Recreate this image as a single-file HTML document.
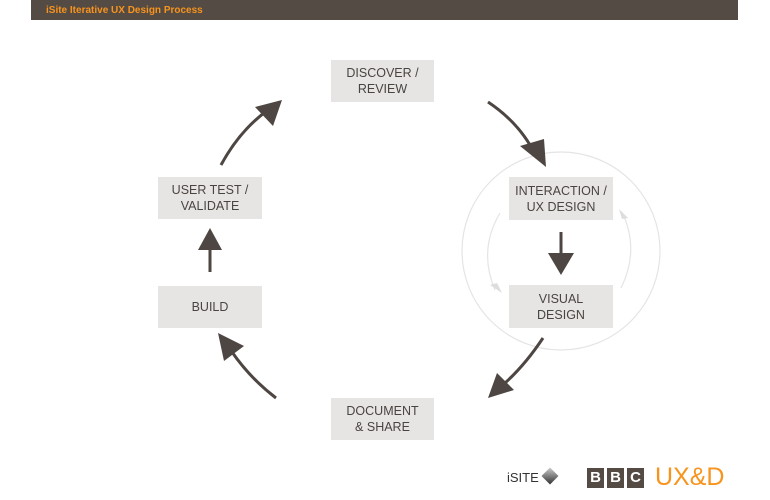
<!DOCTYPE html>
<html><head><style>
body{margin:0;width:770px;height:500px;background:#fff;position:relative;overflow:hidden;font-family:"Liberation Sans",sans-serif}
.hdr{position:absolute;left:31px;top:0;width:707px;height:20px;background:#554b45;color:#f7941d;font-weight:bold;font-size:10px;line-height:21px;padding-left:15px;box-sizing:border-box}
.b{position:absolute;background:#e6e5e4;color:#4a4440;font-size:12.5px;text-align:center;display:flex;align-items:center;justify-content:center;line-height:16px}
</style></head><body>
<div class="hdr">iSite Iterative UX Design Process</div>
<svg width="770" height="500" style="position:absolute;left:0;top:0">
<circle cx="561" cy="251" r="99" fill="none" stroke="#e4e4e4" stroke-width="1.2"/>
<path d="M500 213 Q478 250 495 290" fill="none" stroke="#e4e4e4" stroke-width="1.2"/>
<polygon points="490,285 502,293 497,283" fill="#ddd"/>
<path d="M621 288 Q640 250 622 212" fill="none" stroke="#e4e4e4" stroke-width="1.2"/>
<polygon points="619,209 628,218 622,219" fill="#ddd"/>
<g stroke="#4d4642" stroke-width="3" fill="none">
<path d="M221 165 Q240 130 268 110"/>
<path d="M488 102 Q515 120 530 145"/>
<path d="M561 232 L561 255"/>
<path d="M543 338 Q525 365 505 383"/>
<path d="M276 398 Q250 378 232 352"/>
<path d="M210 272 L210 250"/>
</g>
<g fill="#4d4642">
<polygon points="282,100 255,107 273,126"/>
<polygon points="546,167 520,146 544,139"/>
<polygon points="561,275 548,253 574,253"/>
<polygon points="488,398 497,373 514,390"/>
<polygon points="218,333 244,346 224,361"/>
<polygon points="210,228 198,250 222,250"/>
</g>
</svg>
<div class="b" style="left:331px;top:60px;width:103px;height:42px">DISCOVER /<br>REVIEW</div>
<div class="b" style="left:509px;top:177px;width:104px;height:43px">INTERACTION /<br>UX DESIGN</div>
<div class="b" style="left:509px;top:285px;width:104px;height:43px">VISUAL<br>DESIGN</div>
<div class="b" style="left:158px;top:177px;width:104px;height:42px">USER TEST /<br>VALIDATE</div>
<div class="b" style="left:158px;top:286px;width:104px;height:42px">BUILD</div>
<div class="b" style="left:331px;top:398px;width:103px;height:42px">DOCUMENT<br>&amp; SHARE</div>
<div style="position:absolute;left:507px;top:470px;font-size:13px;color:#333">iSITE</div>
<div style="position:absolute;left:544px;top:470px;width:12px;height:12px;background:linear-gradient(135deg,#ccc,#333);transform:rotate(45deg)"></div>
<div style="position:absolute;left:587px;top:468px;display:flex;gap:3px">
<span style="width:17px;height:20px;background:#554b45;color:#fff;font-weight:bold;font-size:15px;text-align:center;line-height:20px">B</span>
<span style="width:17px;height:20px;background:#554b45;color:#fff;font-weight:bold;font-size:15px;text-align:center;line-height:20px">B</span>
<span style="width:17px;height:20px;background:#554b45;color:#fff;font-weight:bold;font-size:15px;text-align:center;line-height:20px">C</span>
</div>
<div style="position:absolute;left:655px;top:464px;font-size:25px;color:#f7941d;line-height:26px">UX&amp;D</div>
</body></html>
